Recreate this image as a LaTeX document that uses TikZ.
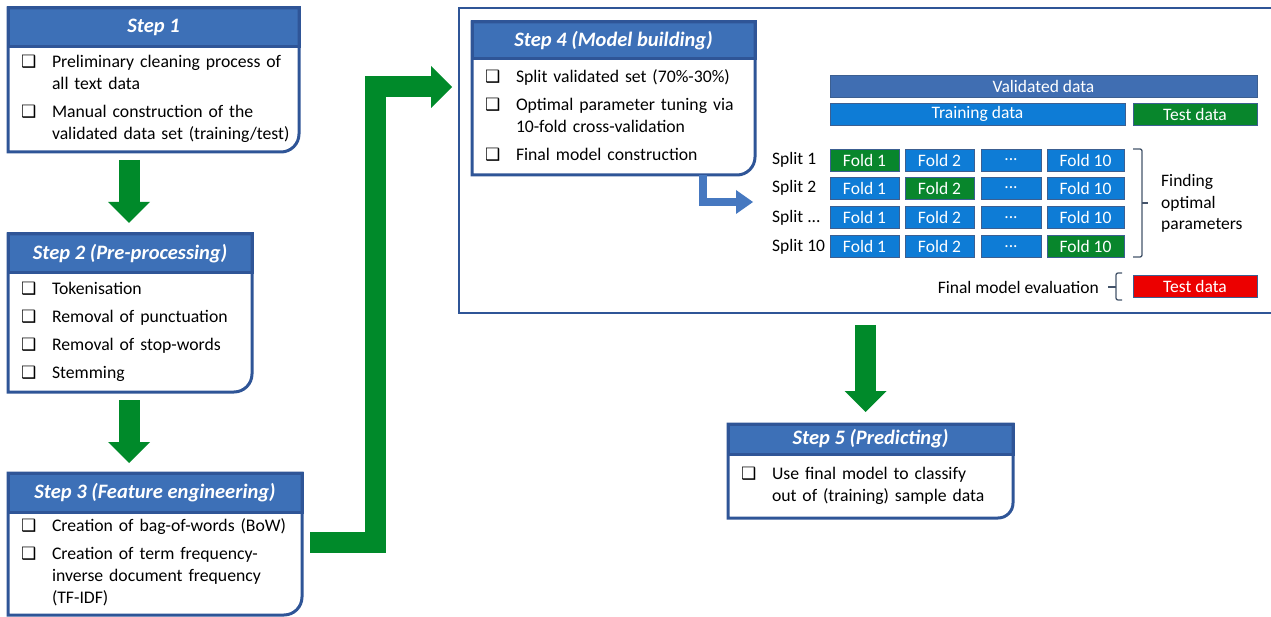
\documentclass[tikz,border=0pt]{standalone}
\usepackage{fontspec}
\setmainfont{Carlito}
\newfontfamily\symfont{DejaVu Sans}
\usetikzlibrary{arrows.meta,positioning,calc}

\definecolor{stepborder}{RGB}{47,85,151}
\definecolor{headfill}{RGB}{61,112,183}
\definecolor{arrowgreen}{RGB}{0,138,42}
\definecolor{bendblue}{RGB}{70,120,192}
\definecolor{validblue}{RGB}{64,110,178}
\definecolor{trainblue}{RGB}{14,124,214}
\definecolor{foldgreen}{RGB}{8,134,44}
\definecolor{testred}{RGB}{236,0,0}
\definecolor{cellborder}{RGB}{60,95,145}
\definecolor{bracecol}{RGB}{68,84,106}

\newcommand{\cb}{{\symfont\fontsize{17}{17}\selectfont ❑}}
\newcommand{\stepframe}[2]{%
  \draw[stepline] (#1h.north west) -- (#1h.north east)
    -- ([yshift=#2]#1.south east) arc[start angle=0,end angle=-90,radius=#2]
    -- (#1.south west) -- cycle;}

\tikzset{
  stepline/.style={draw=stepborder, line width=3pt, line join=miter},
  stephead/.style={fill=headfill, draw=stepborder, line width=3pt, text=white,
    inner sep=0pt, outer sep=0pt, anchor=north west,
    font=\bfseries\itshape\fontsize{20.5}{24}\selectfont},
  stepbody/.style={inner xsep=13pt, inner ysep=0pt, outer sep=0pt, align=left,
    font=\fontsize{17.7}{22}\selectfont},
  frame/.style={draw=stepborder, line width=2.5pt, outer sep=0pt, inner sep=0pt},
  bigarrow/.style={draw=arrowgreen, line width=21pt, line join=miter,
    -{Triangle[length=21pt,width=42pt,line width=0pt]}},
  bendarrow/.style={draw=bendblue, line width=8pt, line join=miter,
    -{Triangle[length=17pt,width=24pt,line width=0pt]}},
  cell/.style={draw=cellborder, line width=0.8pt, text=white, minimum height=22pt,
    inner sep=0pt, outer sep=0pt, font=\fontsize{17.5}{21}\selectfont},
  lbl/.style={inner sep=0pt, font=\fontsize{17.5}{21.5}\selectfont},
  brace/.style={draw=bracecol, line width=1.3pt, rounded corners=2pt}
}

\begin{document}
\begin{tikzpicture}[x=1pt,y=-1pt]
  \useasboundingbox (0,0) rectangle (1271,617);

  % step 1
  \node[stephead, minimum width=291pt, minimum height=39pt] (s1h) at (8,8) {Step 1};
  \node[stepbody, text width=265pt, minimum height=105pt, below=0pt of s1h] (s1) {\noindent
    \begin{tabular}{@{}p{31pt}@{}l@{}}
      \cb & Preliminary cleaning process of\\
          & all text data\\[6pt]
      \cb & Manual construction of the\\
          & validated data set (training/test)
    \end{tabular}};
  \stepframe{s1}{18pt}

  % step 2
  \node[stephead, minimum width=244pt, minimum height=39pt] (s2h) at (8,234) {Step 2 (Pre-processing)};
  \node[stepbody, text width=218pt, minimum height=119pt, below=0pt of s2h] (s2) {\noindent
    \begin{tabular}{@{}p{31pt}@{}l@{}}
      \cb & Tokenisation\\[6pt]
      \cb & Removal of punctuation\\[6pt]
      \cb & Removal of stop-words\\[6pt]
      \cb & Stemming
    \end{tabular}};
  \stepframe{s2}{18pt}

  % step 3
  \node[stephead, minimum width=294pt, minimum height=39pt] (s3h) at (8,473) {Step 3 (Feature engineering)};
  \node[stepbody, text width=268pt, minimum height=103pt, below=0pt of s3h] (s3) {\noindent
    \begin{tabular}{@{}p{31pt}@{}l@{}}
      \cb & Creation of bag-of-words (BoW)\\[6pt]
      \cb & Creation of term frequency-\\
          & inverse document frequency\\
          & (TF-IDF)
    \end{tabular}};
  \stepframe{s3}{18pt}

  % step 4 and its frame
  \node[frame, minimum width=813pt, minimum height=305pt, anchor=north west] (frame4) at (459,8) {};
  \node[stephead, minimum width=283pt, minimum height=37pt] (s4h) at (472,22) {Step 4 (Model building)};
  \node[stepbody, text width=257pt, minimum height=116pt, below=0pt of s4h] (s4) {\noindent
    \begin{tabular}{@{}p{31pt}@{}l@{}}
      \cb & Split validated set (70\%-30\%)\\[6pt]
      \cb & Optimal parameter tuning via\\
          & 10-fold cross-validation\\[6pt]
      \cb & Final model construction
    \end{tabular}};
  \stepframe{s4}{18pt}

  % data bars
  \node[cell, fill=validblue, minimum width=427pt] (valid) at (1043.5,86) {Validated data};
  \node[cell, fill=trainblue, minimum width=295pt] (train) at (977.5,114) {Training data};
  \node[cell, fill=foldgreen, minimum width=124pt] (test) at (1195,114) {Test data};

  % folds
  \node[lbl, anchor=west] (sp1) at (772,160) {Split 1};
  \node[lbl, anchor=west] (sp2) at (772,188) {Split 2};
  \node[lbl, anchor=west] (sp3) at (772,217.5) {Split ...};
  \node[lbl, anchor=west] (sp4) at (772,246.5) {Split 10};
  \node[cell, fill=foldgreen, minimum width=69pt] (c11) at (864.5,160) {Fold 1};
  \node[cell, fill=trainblue, minimum width=69pt] (c12) at (939.5,160) {Fold 2};
  \node[cell, fill=trainblue, minimum width=60pt] (c13) at (1011,160) {...};
  \node[cell, fill=trainblue, minimum width=77pt] (c14) at (1085.5,160) {Fold 10};
  \node[cell, fill=trainblue, minimum width=69pt] (c21) at (864.5,188) {Fold 1};
  \node[cell, fill=foldgreen, minimum width=69pt] (c22) at (939.5,188) {Fold 2};
  \node[cell, fill=trainblue, minimum width=60pt] (c23) at (1011,188) {...};
  \node[cell, fill=trainblue, minimum width=77pt] (c24) at (1085.5,188) {Fold 10};
  \node[cell, fill=trainblue, minimum width=69pt] (c31) at (864.5,217.5) {Fold 1};
  \node[cell, fill=trainblue, minimum width=69pt] (c32) at (939.5,217.5) {Fold 2};
  \node[cell, fill=trainblue, minimum width=60pt] (c33) at (1011,217.5) {...};
  \node[cell, fill=trainblue, minimum width=77pt] (c34) at (1085.5,217.5) {Fold 10};
  \node[cell, fill=trainblue, minimum width=69pt] (c41) at (864.5,246.5) {Fold 1};
  \node[cell, fill=trainblue, minimum width=69pt] (c42) at (939.5,246.5) {Fold 2};
  \node[cell, fill=trainblue, minimum width=60pt] (c43) at (1011,246.5) {...};
  \node[cell, fill=foldgreen, minimum width=77pt] (c44) at (1085.5,246.5) {Fold 10};

  \draw[brace] (1133,149) -- (1142,149) -- (1142,257) -- (1133,257);
  \draw[brace] (1142,203) -- (1148,203);
  \node[lbl, anchor=west, align=left] (findopt) at (1161,203.5) {Finding\\optimal\\parameters};

  \node[lbl, anchor=east] (finaleval) at (1099,287) {Final model evaluation};
  \draw[brace] (1122,273) -- (1116,273) -- (1116,300) -- (1122,300);
  \draw[brace] (1116,287) -- (1108,287);
  \node[cell, fill=testred, minimum width=124pt] (testfinal) at (1195,286.5) {Test data};

  % step 5
  \node[stephead, minimum width=285pt, minimum height=30pt] (s5h) at (728,424) {Step 5 (Predicting)};
  \node[stepbody, text width=259pt, minimum height=64pt, below=0pt of s5h] (s5) {\noindent
    \begin{tabular}{@{}p{31pt}@{}l@{}}
      \cb & Use final model to classify\\
          & out of (training) sample data
    \end{tabular}};
  \stepframe{s5}{15pt}

  % arrows
  \draw[bigarrow] ([xshift=121pt,yshift=-8pt]s1.south west) -- ([xshift=121pt,yshift=11pt]s2h.north west);
  \draw[bigarrow] ([xshift=121pt,yshift=-8pt]s2.south west) -- ([xshift=121pt,yshift=10pt]s3h.north west);
  \draw[bigarrow] ([xshift=8pt,yshift=21pt]s3.east) -- ++(65.5,0) |- ([xshift=-7pt,yshift=73.5pt]frame4.west);
  \draw[bigarrow] ([yshift=-12pt]frame4.south) -- ([yshift=12pt]frame4.south |- s5h.north);
  \draw[bendarrow] ([xshift=-52pt]s4.south east) |- ([xshift=-19pt,yshift=-14pt]sp2.west);
\end{tikzpicture}
\end{document}
